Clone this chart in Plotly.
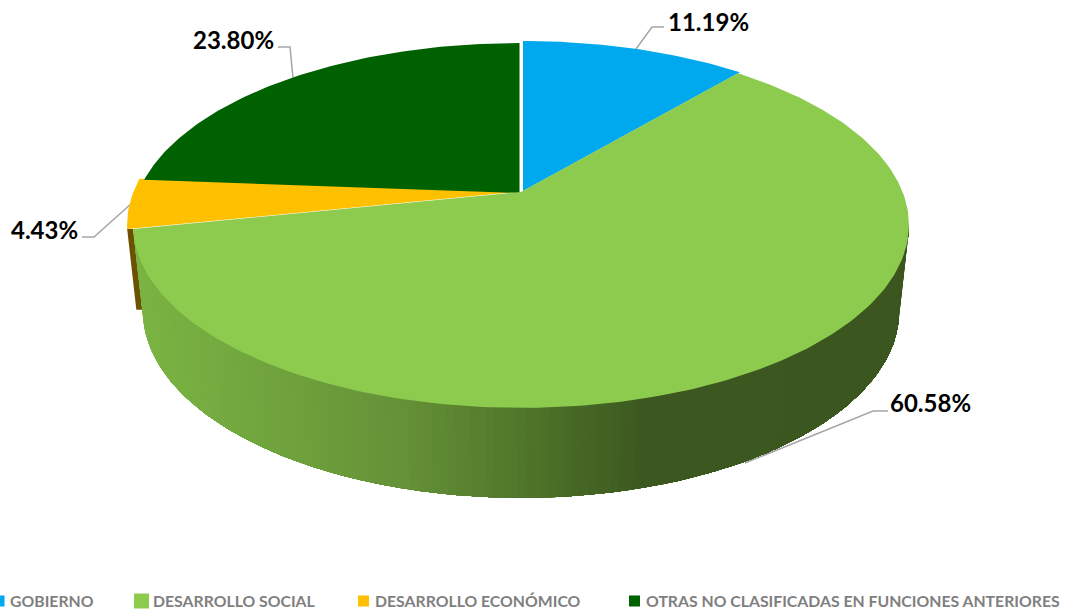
import math
import plotly.graph_objects as go

# ---- data ----
categories = ["GOBIERNO", "DESARROLLO SOCIAL", "DESARROLLO ECONÓMICO",
              "OTRAS NO CLASIFICADAS EN FUNCIONES ANTERIORES"]
values = [11.19, 60.58, 4.43, 23.80]
labels = ["11.19%", "60.58%", "4.43%", "23.80%"]
colors = ["#00A9EE", "#8DCB4F", "#FFC000", "#006100"]

# ---- view: perspective disc seen from above ----
CX, APEX_Y = 521, 192
K = 0.18
A, B = 381.6, 177
A2, B2, APEX2 = 372, 181, 277
OFFSETS = [(2, -1), (0, 0), (-6, 0), (-1.5, 1)]


def top(theta, dx=0, dy=0):
    u, v = math.sin(theta), math.cos(theta)
    w = 1 + K * v
    return CX + A * u / w + dx, APEX_Y - B * v / w + dy


def bottom(theta, dx=0, dy=0):
    u, v = math.sin(theta), math.cos(theta)
    w = 1 + K * v
    return CX + A2 * u / w + dx, APEX2 - B2 * v / w + dy


total = sum(values)
edges = [0.0]
for val in values:
    edges.append(edges[-1] + val / total * 2 * math.pi)

fig = go.Figure()


def poly(pts, color, name=None):
    fig.add_trace(go.Scatter(
        x=[p[0] for p in pts], y=[p[1] for p in pts], mode="lines", fill="toself",
        fillcolor=color, line=dict(color=color, width=0),
        hoverinfo="skip" if name is None else "name", name=name or "", showlegend=False))


def lerp_color(x):
    stops = [(140, (124, 181, 68)), (300, (110, 160, 60)), (400, (102, 146, 56)),
             (520, (80, 118, 42)), (640, (60, 88, 32)), (910, (60, 86, 32))]
    for (x0, c0), (x1, c1) in zip(stops, stops[1:]):
        if x <= x1:
            t = max(0, (x - x0) / (x1 - x0))
            return "rgb(%d,%d,%d)" % tuple(c0[i] + t * (c1[i] - c0[i]) for i in range(3))
    return "rgb(60,86,32)"


# leader lines, behind the pie
leaders = [
    [(636, 49), (652, 27), (664, 27)],
    [(745, 463), (873, 411), (888, 411)],
    [(132, 203), (94, 237), (82, 237)],
    [(293, 78), (290, 47), (278, 47)],
]
for ln in leaders:
    fig.add_trace(go.Scatter(x=[p[0] for p in ln], y=[p[1] for p in ln], mode="lines",
                             line=dict(color="#A6A6A6", width=1.5),
                             hoverinfo="skip", showlegend=False))

# orange slice wall (brown strip), behind the green wall
th = edges[2]
ox, oy = OFFSETS[2]
t0 = top(th, ox, oy)
t1 = top(th)
b1 = bottom(th)
b0 = bottom(th, ox, oy)
F = 0.94
poly([t0, t1, (t1[0] + (b1[0] - t1[0]) * F, t1[1] + (b1[1] - t1[1]) * F),
      (t0[0] + (b0[0] - t0[0]) * F, t0[1] + (b0[1] - t0[1]) * F)], "#6B5200")

# green slice wall: painted left to right, each band covering everything to its right
a_right, a_left = math.radians(100.4), edges[2]
N = 160
for i in range(N):
    s = a_left + (a_right - a_left) * i / N
    steps = N - i
    arc = [s + (a_right - s) * j / steps for j in range(steps + 1)]
    pts = [top(a) for a in arc] + [bottom(a) for a in reversed(arc)]
    poly(pts, lerp_color(bottom(s)[0]))

# top faces
for idx in [2, 3, 0, 1]:
    dx, dy = OFFSETS[idx]
    n = max(8, int((edges[idx + 1] - edges[idx]) * 60))
    pts = [(CX + dx, APEX_Y + dy)]
    pts += [top(edges[idx] + (edges[idx + 1] - edges[idx]) * j / n, dx, dy) for j in range(n + 1)]
    poly(pts, colors[idx], name=categories[idx])

# data labels
label_pos = [(708, 21), (930, 402), (44, 229), (233, 39)]
annotations = [dict(x=x, y=y, text="<b>%s</b>" % t, showarrow=False, xref="x", yref="y",
                    font=dict(family="Lato, Carlito, sans-serif", size=24, color="#000000"))
               for t, (x, y) in zip(labels, label_pos)]

# legend row
swatch_x = [-1, 141.5, 363.5, 634.5]
swatch_size = [11, 15, 11, 11]
text_x = [8, 151, 373, 644]
fig.add_trace(go.Scatter(x=swatch_x, y=[601] * 4, mode="markers",
                         marker=dict(symbol="square", size=swatch_size, color=colors,
                                     opacity=1, line=dict(width=0)),
                         hoverinfo="skip", showlegend=False))
for c, x in zip(categories, text_x):
    annotations.append(dict(x=x, y=600, text="<b>%s</b>" % c, showarrow=False, xanchor="left",
                            xref="x", yref="y",
                            font=dict(family="Lato, Carlito, sans-serif", size=15.8, color="#7F7F7F")))

fig.update_layout(
    width=1065, height=612, margin=dict(l=0, r=0, t=0, b=0),
    paper_bgcolor="white", plot_bgcolor="white", annotations=annotations, showlegend=False,
    xaxis=dict(range=[0, 1065], visible=False, fixedrange=True),
    yaxis=dict(range=[612, 0], visible=False, fixedrange=True),
)

fig.write_html("out.html", config=dict(displayModeBar=False),
               post_script="document.body.style.margin='0';document.body.style.overflow='hidden';")
